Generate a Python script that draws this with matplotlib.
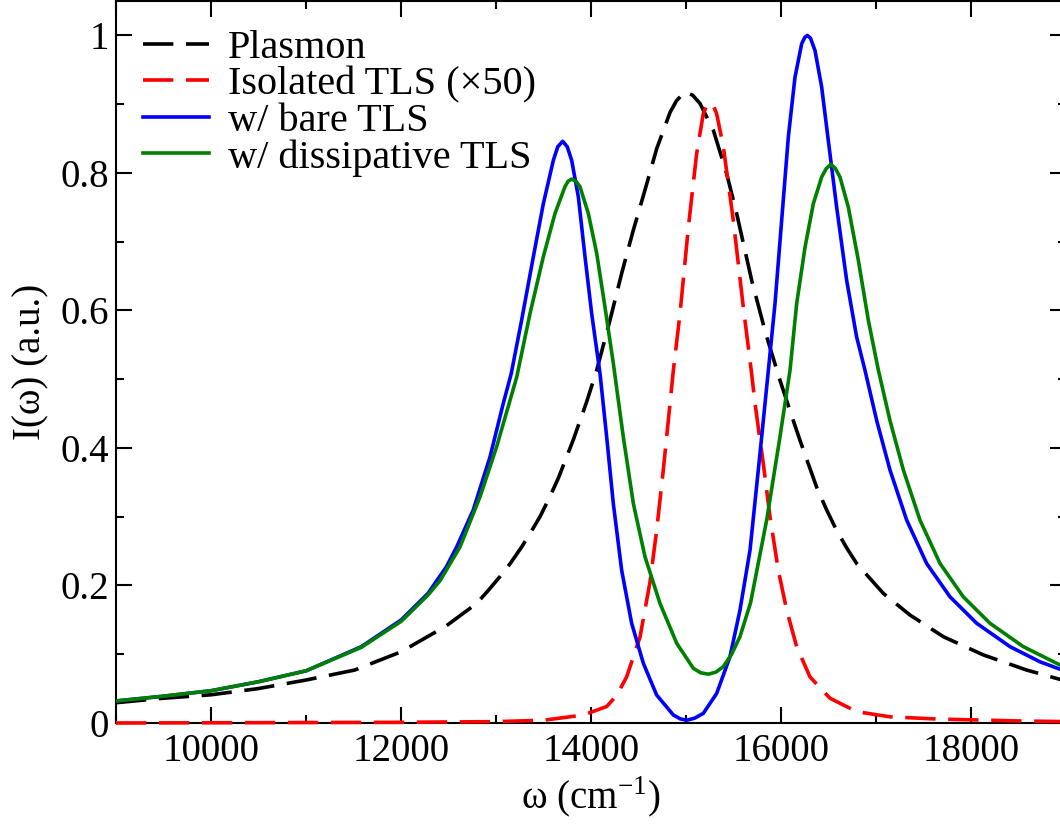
import matplotlib
matplotlib.use("Agg")
import matplotlib.pyplot as plt
from matplotlib.ticker import MultipleLocator, FixedLocator, FixedFormatter

plt.rcParams['font.family'] = ['Liberation Serif', 'DejaVu Serif']
plt.rcParams['mathtext.fontset'] = 'custom'
plt.rcParams['mathtext.rm'] = 'Liberation Serif'

# plasmon response alone
plasmon_w = [9000, 9495, 10000, 10495, 11000, 11512, 12000, 12474, 12797, 12920,
             13042, 13150, 13270, 13360, 13463, 13560, 13656, 13814, 13954, 14060,
             14200, 14323, 14446, 14568, 14691, 14832, 14900, 14989, 15070, 15147,
             15288, 15428, 15533, 15691, 15840, 15989, 16100, 16200, 16375, 16480,
             16586, 16690, 16796, 17077, 17358, 17709, 18130, 18586, 19000]
plasmon_I = [0.0295, 0.036, 0.041, 0.050, 0.0625, 0.077, 0.1035, 0.141, 0.174, 0.193,
             0.213, 0.232, 0.256, 0.276, 0.300, 0.327, 0.356, 0.412, 0.467, 0.513,
             0.586, 0.654, 0.717, 0.775, 0.835, 0.888, 0.905, 0.918, 0.913, 0.901,
             0.862, 0.799, 0.741, 0.644, 0.566, 0.4985, 0.452, 0.411, 0.343, 0.310,
             0.280, 0.255, 0.232, 0.1885, 0.157, 0.1255, 0.099, 0.077, 0.061]

# isolated two-level system, scaled by 50
tls_w = [9000, 12000, 13000, 13500, 13919, 14165, 14270, 14375, 14516, 14621,
         14691, 14761, 14832, 14867, 14937, 15025, 15112, 15182, 15218, 15253,
         15288, 15323, 15393, 15498, 15603, 15691, 15726, 15814, 15884, 15972,
         16060, 16165, 16305, 16516, 16796, 17147, 17639, 18500, 19000]
tls_I = [0.000, 0.001, 0.002, 0.004, 0.0116, 0.024, 0.040, 0.067, 0.125, 0.205,
         0.280, 0.368, 0.465, 0.513, 0.5955, 0.721, 0.828, 0.886, 0.898, 0.902,
         0.898, 0.886, 0.838, 0.731, 0.605, 0.508, 0.465, 0.377, 0.300, 0.222,
         0.164, 0.111, 0.067, 0.036, 0.0165, 0.009, 0.0058, 0.003, 0.002]

# coupled system with bare TLS
bare_w = [9000, 9500, 10003, 10500, 11003, 11582, 12003, 12284, 12477, 12586,
          12761, 12937, 13077, 13160, 13270, 13393, 13498, 13603, 13650, 13702,
          13750, 13797, 13867, 13937, 14007, 14095, 14165, 14235, 14323, 14428,
          14551, 14691, 14867, 14940, 15007, 15090, 15182, 15323, 15463, 15568,
          15674, 15779, 15867, 15937, 16007, 16077, 16147, 16218, 16250, 16277,
          16310, 16358, 16428, 16498, 16586, 16691, 16796, 16884, 17007, 17147,
          17323, 17533, 17779, 18060, 18411, 18726, 19000]
bare_I = [0.032, 0.039, 0.047, 0.060, 0.076, 0.111, 0.150, 0.1885, 0.227, 0.256,
          0.310, 0.387, 0.465, 0.508, 0.586, 0.678, 0.755, 0.818, 0.838, 0.846,
          0.838, 0.818, 0.765, 0.678, 0.5955, 0.508, 0.416, 0.319, 0.222, 0.145,
          0.0868, 0.0407, 0.0116, 0.006, 0.004, 0.007, 0.014, 0.043, 0.0965, 0.164,
          0.2515, 0.392, 0.513, 0.610, 0.731, 0.852, 0.939, 0.988, 0.997, 1.0,
          0.996, 0.978, 0.925, 0.847, 0.750, 0.644, 0.5615, 0.513, 0.440, 0.368,
          0.295, 0.232, 0.1835, 0.145, 0.111, 0.089, 0.075]

# coupled system with dissipative TLS
diss_w = [9000, 9500, 10003, 10500, 11003, 11582, 12003, 12284, 12411, 12621,
          12832, 13007, 13147, 13218, 13358, 13498, 13621, 13726, 13760, 13797,
          13840, 13884, 13972, 14060, 14147, 14235, 14340, 14446, 14568, 14726,
          14902, 15077, 15155, 15235, 15315, 15393, 15480, 15568, 15680, 15849,
          15989, 16095, 16165, 16253, 16340, 16428, 16475, 16523, 16570, 16621,
          16709, 16814, 16919, 17025, 17147, 17288, 17463, 17674, 17919, 18200,
          18551, 19000]
diss_I = [0.032, 0.039, 0.047, 0.060, 0.076, 0.110, 0.148, 0.186, 0.207, 0.256,
          0.329, 0.402, 0.469, 0.503, 0.5955, 0.678, 0.741, 0.780, 0.788, 0.791,
          0.788, 0.780, 0.741, 0.683, 0.605, 0.523, 0.416, 0.319, 0.242, 0.174,
          0.116, 0.0795, 0.073, 0.071, 0.074, 0.082, 0.100, 0.1255, 0.175, 0.295,
          0.416, 0.513, 0.610, 0.692, 0.755, 0.794, 0.806, 0.8125, 0.807, 0.794,
          0.750, 0.673, 0.586, 0.513, 0.440, 0.368, 0.295, 0.232, 0.1835, 0.145,
          0.111, 0.080]

labels = ['Plasmon', 'Isolated TLS (\u00d750)', 'w/ bare TLS', 'w/ dissipative TLS']
xticks = [10000, 12000, 14000, 16000, 18000]
yticks = [0, 0.2, 0.4, 0.6, 0.8, 1.0]
yticklabels = ['0', '0.2', '0.4', '0.6', '0.8', '1']

fig = plt.figure(figsize=(10.6, 8.26), dpi=100)
ax = fig.add_axes([116 / 1060, 103 / 826, 950 / 1060, 722 / 826])

lw = 2.6
dash = (8.4, 3.5)
ax.plot(plasmon_w, plasmon_I, color='black', lw=lw, dashes=dash, label=labels[0], zorder=3)
ax.plot(tls_w, tls_I, color='red', lw=lw, dashes=dash, label=labels[1], zorder=3, clip_on=False)
ax.plot(bare_w, bare_I, color='blue', lw=lw, label=labels[2], zorder=3)
ax.plot(diss_w, diss_I, color='green', lw=lw, label=labels[3], zorder=3)

ax.set_xlim(9000, 19000)
ax.set_ylim(0, 1.05)

ax.xaxis.set_major_locator(FixedLocator(xticks))
ax.xaxis.set_minor_locator(MultipleLocator(1000))
ax.yaxis.set_major_locator(FixedLocator(yticks))
ax.yaxis.set_major_formatter(FixedFormatter(yticklabels))
ax.yaxis.set_minor_locator(MultipleLocator(0.1))

ax.tick_params(which='both', direction='in', top=True, right=True, width=1.5)
ax.tick_params(which='major', length=11.5, labelsize=28)
ax.tick_params(axis='x', which='major', pad=7)
ax.tick_params(axis='y', which='major', pad=5)
ax.tick_params(which='minor', length=6)
for sp in ax.spines.values():
    sp.set_linewidth(1.5)

ax.set_xlabel('\u03c9 (cm$^{\\mathregular{-1}}$)', fontsize=28, labelpad=4)
ax.set_ylabel('I(\u03c9) (a.u.)', fontsize=28, labelpad=8)

ax.legend(loc='upper left', bbox_to_anchor=(0.028, 0.96), frameon=False,
          fontsize=29, handlelength=1.66, handletextpad=0.45, labelspacing=-0.02,
          borderpad=0, borderaxespad=0)

fig.savefig('out.png', dpi=100)
